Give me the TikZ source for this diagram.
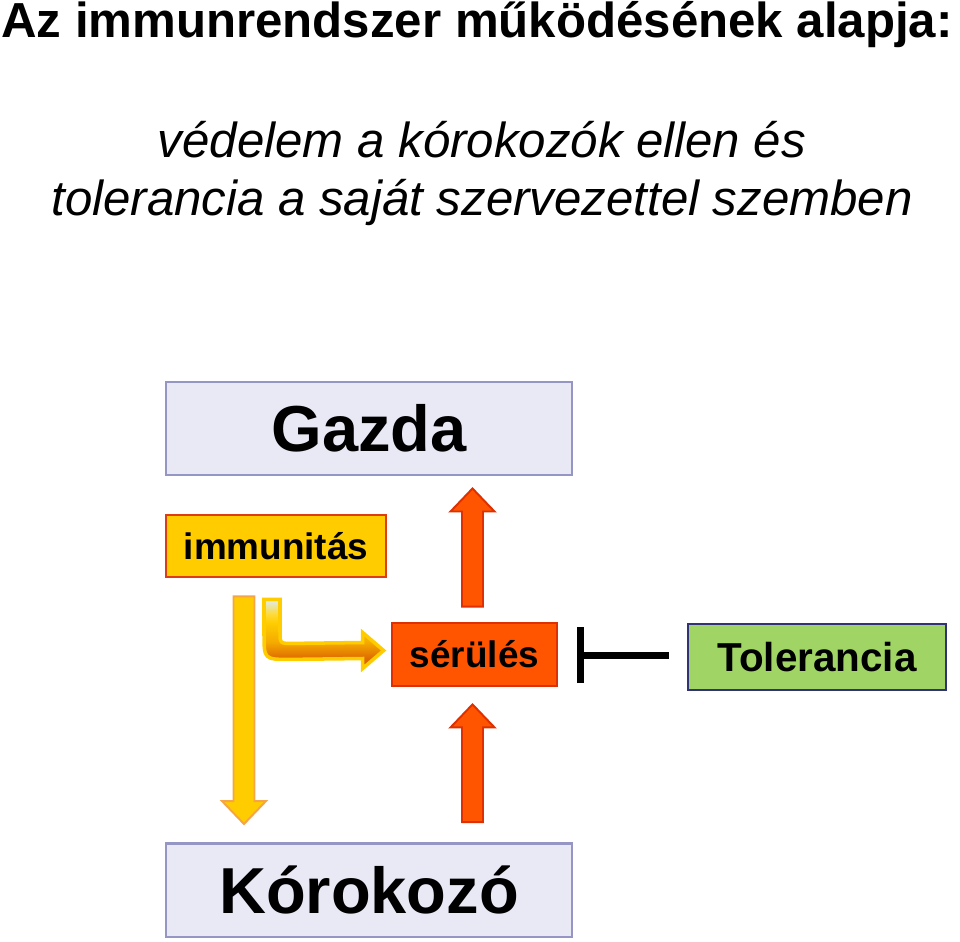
\documentclass[tikz,border=0pt]{standalone}
\usepackage{fontspec}
\setmainfont{Liberation Sans}
\usetikzlibrary{arrows.meta,calc}

\definecolor{boxlav}{RGB}{233,233,246}
\definecolor{boxedge}{RGB}{150,150,196}
\definecolor{immfill}{RGB}{255,204,0}
\definecolor{immedge}{RGB}{224,60,20}
\definecolor{serfill}{RGB}{255,85,0}
\definecolor{seredge}{RGB}{222,48,0}
\definecolor{tolfill}{RGB}{160,212,100}
\definecolor{toledge}{RGB}{50,50,120}
\definecolor{yeledge}{RGB}{245,165,70}
\definecolor{bendtop}{RGB}{220,236,246}
\definecolor{bendlight}{RGB}{255,218,50}
\definecolor{bendmid}{RGB}{245,170,0}
\definecolor{benddark}{RGB}{222,105,0}
\definecolor{bendbot}{RGB}{212,90,0}

% light top, yellow, then orange towards the bottom
\pgfdeclareverticalshading{bendshade}{100bp}{color(0bp)=(bendbot); color(25bp)=(bendbot);
  color(32bp)=(benddark); color(44bp)=(bendmid); color(58bp)=(immfill);
  color(64bp)=(bendlight); color(75bp)=(bendtop); color(100bp)=(bendtop)}

% vertical block arrow: style, base, tip, direction (1 = up, -1 = down)
\newcommand{\fatarrow}[4]{%
  \draw[#1] ($(#2)+(-10.5,0)$) -- ($(#3)+(-10.5,#4*23)$) -- ($(#3)+(-22,#4*23)$)
    -- (#3) -- ($(#3)+(22,#4*23)$) -- ($(#3)+(10.5,#4*23)$) -- ($(#2)+(10.5,0)$) -- cycle;}

\begin{document}
\begin{tikzpicture}[x=0.02cm,y=-0.02cm,
    bigbox/.style={draw=boxedge,fill=boxlav,line width=1.4pt,minimum width=8.12cm,
      minimum height=1.87cm,inner sep=0pt,font=\fontsize{37}{40}\selectfont\bfseries},
    smallbox/.style={line width=1.6pt,inner sep=0pt,font=\fontsize{21}{24}\selectfont\bfseries},
    redarrow/.style={fill=serfill,draw=seredge,line width=1.1pt},
    yelarrow/.style={fill=immfill,draw=yeledge,line width=1.1pt},
    inhib/.style={line width=0.14cm,-{Bar[width=1.12cm]}}]

  \useasboundingbox (0,0) rectangle (960,941);

  %--- headings ---
  \node[anchor=base west,inner sep=0pt,font=\fontsize{28}{32}\selectfont\bfseries]
    (title) at (1,37) {Az immunrendszer működésének alapja:};
  \node[anchor=base,inner sep=0pt,font=\fontsize{28}{32}\selectfont\itshape]
    (sub1) at (482,157) {védelem a kórokozók ellen és};
  \node[anchor=base,inner sep=0pt,font=\fontsize{28}{32}\selectfont\itshape]
    (sub2) at (482,215) {tolerancia a saját szervezettel szemben};

  %--- boxes ---
  \node[bigbox] (gazda) at (369,428.5) {Gazda};
  \node[bigbox] (koro) at (369,890) {Kórokozó};
  \node[smallbox,draw=immedge,fill=immfill,minimum width=4.4cm,minimum height=1.24cm]
    (immun) at (276,546) {immunitás};
  \node[smallbox,draw=seredge,fill=serfill,minimum width=3.3cm,minimum height=1.26cm]
    (serules) at (474.5,654.5) {sérülés};
  \node[smallbox,draw=toledge,fill=tolfill,minimum width=5.16cm,minimum height=1.32cm,
    font=\fontsize{23}{26}\selectfont\bfseries] (tol) at (817,657) {Tolerancia};

  %--- red arrows into Gazda and sérülés ---
  \coordinate (up1b) at ($(serules.north)+(-2,-15)$);
  \coordinate (up1t) at ($(serules.north |- gazda.south)+(-2,12)$);
  \coordinate (up2b) at ($(serules.north |- koro.north)+(-2,-20)$);
  \coordinate (up2t) at ($(serules.south)+(-2,17)$);
  \fatarrow{redarrow}{up1b}{up1t}{1}
  \fatarrow{redarrow}{up2b}{up2t}{1}

  %--- immunitás: down to Kórokozó ---
  \coordinate (dnb) at ($(immun.south)+(-32,18)$);
  \coordinate (dnt) at ($(immun.south |- koro.north)+(-32,-18)$);
  \fatarrow{yelarrow}{dnb}{dnt}{-1}

  %--- immunitás: bent arrow to sérülés ---
  \coordinate (bs) at ($(immun.south)+(-4,21)$);
  \coordinate (bt) at ($(serules.west)+(-7,-4)$);
  \draw[draw=immfill,line width=2pt,shading=bendshade]
    ($(bs)+(-8,0)$) -- ($(bs)+(8,0)$) -- ($(bs)+(8,32)$)
    .. controls ($(bs)+(8,44)$) .. ($(bs)+(20,44)$)
    -- ($(bt)+(-21,-8)$) -- ($(bt)+(-21,-18)$) -- (bt) -- ($(bt)+(-21,18)$)
    -- ($(bt)+(-21,8)$) -- ($(bs)+(18,60)$)
    .. controls ($(bs)+(-8,60)$) .. ($(bs)+(-8,34)$) -- cycle;

  %--- Tolerancia blocks sérülés ---
  \coordinate (tolin) at ($(tol.west)+(-18,-2)$);
  \coordinate (barend) at ($(serules.east)+(19,0)$);
  \draw[inhib] (tolin) -- (barend |- tolin);

\end{tikzpicture}
\end{document}
